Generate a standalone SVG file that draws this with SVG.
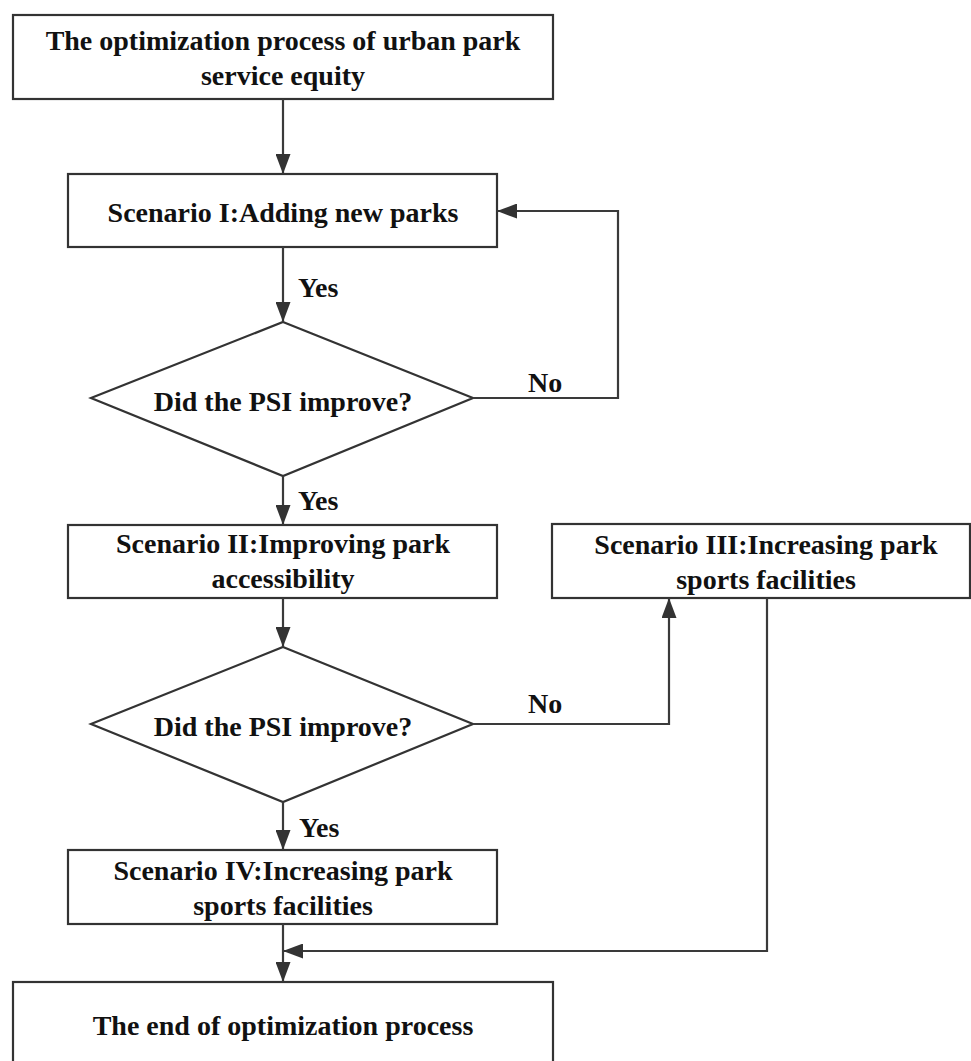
<svg xmlns="http://www.w3.org/2000/svg" width="971" height="1061" viewBox="0 0 971 1061">
  <style>
    .box { fill: #ffffff; stroke: #333333; stroke-width: 2.2; }
    .t { font-family: "Liberation Serif", "Times New Roman", serif; font-weight: bold; font-size: 28px; fill: #111111; text-anchor: middle; }
    .lbl { font-family: "Liberation Serif", "Times New Roman", serif; font-weight: bold; font-size: 28px; fill: #111111; }
    .edge { fill: none; stroke: #3a3a3a; stroke-width: 2.2; marker-end: url(#arrow); }
  </style>
  <defs>
    <marker id="arrow" markerUnits="userSpaceOnUse" markerWidth="20" markerHeight="15" refX="20" refY="7.5" orient="auto">
      <path d="M0,0 L20,7.5 L0,15 Z" fill="#333333"/>
    </marker>
  </defs>
  <rect width="971" height="1061" fill="#ffffff"/>

  <g id="start">
    <rect class="box" x="13" y="15" width="540" height="84"/>
    <text class="t" x="283" y="50">The optimization process of urban park</text>
    <text class="t" x="283" y="85">service equity</text>
  </g>
  <g id="scenario1">
    <rect class="box" x="68" y="174" width="429" height="73"/>
    <text class="t" x="283" y="222">Scenario I:Adding new parks</text>
  </g>
  <g id="decision1">
    <polygon class="box" points="283,322 473,398 283,476 91,398"/>
    <text class="t" x="283" y="411">Did the PSI improve?</text>
  </g>
  <g id="scenario2">
    <rect class="box" x="68" y="525" width="429" height="73"/>
    <text class="t" x="283" y="553">Scenario II:Improving park</text>
    <text class="t" x="283" y="588">accessibility</text>
  </g>
  <g id="scenario3">
    <rect class="box" x="552" y="524" width="418" height="74"/>
    <text class="t" x="766" y="554">Scenario III:Increasing park</text>
    <text class="t" x="766" y="589">sports facilities</text>
  </g>
  <g id="decision2">
    <polygon class="box" points="283,647 473,724 283,802 91,724"/>
    <text class="t" x="283" y="736">Did the PSI improve?</text>
  </g>
  <g id="scenario4">
    <rect class="box" x="68" y="850" width="429" height="74"/>
    <text class="t" x="283" y="880">Scenario IV:Increasing park</text>
    <text class="t" x="283" y="915">sports facilities</text>
  </g>
  <g id="end">
    <rect class="box" x="13" y="982" width="540" height="95"/>
    <text class="t" x="283" y="1035">The end of optimization process</text>
  </g>

  <g id="connectors">
    <path class="edge" d="M283,99 L283,174"/>
    <path class="edge" d="M283,247 L283,322"/>
    <path class="edge" d="M473,398 L618,398 L618,211 L497,211"/>
    <path class="edge" d="M283,476 L283,525"/>
    <path class="edge" d="M283,598 L283,647"/>
    <path class="edge" d="M473,724 L669,724 L669,598"/>
    <path class="edge" d="M283,802 L283,850"/>
    <path class="edge" d="M283,924 L283,982"/>
    <path class="edge" d="M767,598 L767,951 L283,951"/>
    <text class="lbl" x="298" y="297">Yes</text>
    <text class="lbl" x="528" y="392">No</text>
    <text class="lbl" x="298" y="510">Yes</text>
    <text class="lbl" x="528" y="713">No</text>
    <text class="lbl" x="299" y="837">Yes</text>
  </g>
</svg>
